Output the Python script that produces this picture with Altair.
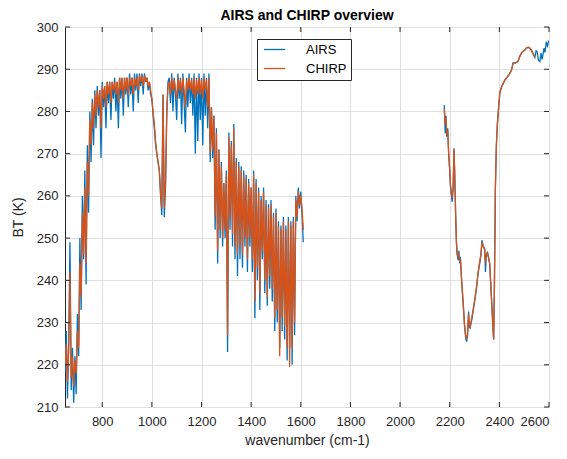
import altair as alt
import pandas as pd

# ---------------- data ----------------
# Longwave/midwave band: channel grid 650..1610 cm-1 every 5 cm-1
wn_lw = list(range(650, 1611, 5))

airs_lw = [
    218, 228, 212, 226, 249, 214, 224, 211, 222, 213,
    232, 222, 250, 233, 260, 245, 266, 239, 272, 256,
    280, 268, 283, 272, 285, 276, 286, 279, 285, 269,
    287, 281, 286, 276, 287, 282, 287, 278, 287, 283,
    288, 280, 287, 276, 288, 283, 288, 279, 288, 284,
    288, 281, 289, 284, 288, 280, 289, 285, 289, 282,
    289, 286, 289, 284, 289, 287, 288, 285, 287, 284,
    283, 279, 276, 272, 270, 268, 266, 260, 255.5, 284,
    255, 262, 280, 287, 288, 282, 289, 280, 288, 284,
    278, 289, 283, 288, 277, 289, 282, 275, 288, 281,
    289, 282, 288, 279, 289, 270, 288, 273, 289, 278,
    288, 272, 289, 279, 288, 276, 289, 268, 281, 269,
    279, 252, 276, 244, 271, 250, 268, 248, 263, 250,
    266, 223, 275, 252, 273, 248, 277, 245, 269, 241,
    268, 245, 267, 243, 266, 248, 265, 242, 264, 248,
    262, 242, 266, 231, 264, 240, 262, 233, 260, 245,
    262, 237, 259, 234, 258, 238, 259, 235, 256, 228,
    257, 230, 254, 224, 253, 228, 255, 226, 253, 221,
    255, 224, 254, 220, 255, 227, 260, 254, 262, 257,
    261, 256, 249,
]

chirp_lw = [
    220, 225, 216, 223, 242, 217, 222, 215, 221, 218,
    228, 224, 244, 236, 256, 246, 262, 244, 268, 260,
    278, 272, 282, 276, 284, 279, 285, 281, 285, 276,
    286, 283, 286, 281, 287, 284, 287, 282, 287, 285,
    287, 284, 287, 282, 288, 285, 288, 283, 288, 285,
    288, 284, 288, 286, 288, 284, 288, 286, 288, 285,
    288.5, 287, 288.5, 286, 288.5, 287, 288, 286, 287, 285,
    283, 280, 277, 273, 270, 268, 266, 261, 257, 284,
    257, 263, 279, 286, 287, 284, 288, 285, 287.5, 285,
    283, 288, 285, 287.5, 284, 288, 285, 281, 287.5, 285,
    288, 285, 287.5, 284, 288, 283, 287.5, 284, 288, 284,
    287.5, 283, 288, 285, 287.5, 281, 288, 270, 281, 271,
    279, 255, 275, 247, 271, 252, 267, 250, 263, 252,
    265, 227, 274, 255, 272, 251, 276, 248, 268, 246,
    267, 248, 266, 246, 265, 250, 264, 245, 263, 250,
    262, 245, 265, 235, 263, 243, 261, 237, 259, 247,
    261, 240, 258, 236, 257, 241, 258, 238, 255, 231,
    256, 233, 253, 222, 252, 231, 254, 229, 252, 224,
    254, 219.5, 253, 224, 254, 230, 259, 255, 261, 258,
    260, 257, 252,
]

# Shortwave band
wn_sw_airs = [
    2178, 2182, 2185, 2188, 2192, 2196, 2200, 2203, 2207, 2210,
    2214, 2217, 2220, 2224, 2227, 2230, 2234, 2237, 2240, 2243,
    2248, 2254, 2260, 2265, 2268, 2272, 2276, 2279, 2282, 2290,
    2301, 2308, 2314, 2318, 2321, 2326, 2330, 2335, 2341, 2344,
    2347, 2352, 2356, 2361, 2368, 2374, 2377, 2380, 2384, 2388,
    2392, 2397, 2402, 2410, 2422, 2430, 2440, 2449, 2455, 2465,
    2475, 2482, 2489, 2495, 2502, 2509, 2516, 2522, 2529, 2535,
    2543, 2548, 2552, 2557, 2563, 2568, 2572, 2576, 2580, 2584,
    2589, 2594, 2600,
]
airs_sw = [
    281.5, 274.8, 279, 274, 276, 269.3, 266, 262.2, 260, 258.6,
    262, 271.3, 266, 255, 248.8, 246, 244.8, 247, 244, 245.6,
    240, 234.6, 229, 226, 225.5, 227, 232.6, 229, 228.7, 231,
    235.3, 238, 241.7, 243, 244, 246, 249.5, 248, 247.6, 242,
    245.5, 246.8, 245.5, 244, 236, 229, 226, 238, 262, 272,
    277, 281, 284.5, 286, 287.4, 288, 288.8, 289.8, 291.5, 291.5,
    291.8, 293, 293.8, 294.2, 294.5, 295, 295.2, 295, 294.5, 293.8,
    292.8, 294.4, 294.2, 292.2, 291.8, 293.8, 292.3, 293.5, 295, 294,
    296.5, 295.5, 296.8,
]

wn_sw_chirp = [
    2178, 2182, 2185, 2188, 2192, 2196, 2200, 2203, 2207, 2210,
    2214, 2217, 2220, 2224, 2227, 2230, 2234, 2237, 2240, 2243,
    2248, 2254, 2260, 2265, 2268, 2272, 2276, 2279, 2282, 2290,
    2301, 2308, 2314, 2318, 2321, 2326, 2330, 2335, 2341, 2344,
    2347, 2352, 2356, 2361, 2368, 2374, 2377, 2380, 2384, 2388,
    2392, 2397, 2402, 2410, 2422, 2430, 2440, 2449, 2455, 2465,
    2475, 2482, 2489, 2495, 2502, 2509, 2516, 2522, 2529, 2535,
    2543,
]
chirp_sw = [
    280.5, 277, 278.5, 274.5, 275.5, 270, 266.5, 262.8, 260.5, 259.5,
    262.5, 271, 265.5, 255.5, 249.5, 246.5, 245.5, 246.5, 244.5, 245,
    240, 234.8, 229.5, 226.5, 226.2, 227.5, 232, 229.5, 229, 231.5,
    235.5, 238.5, 241.5, 243.5, 244.5, 246.5, 249, 248, 247.2, 244,
    246, 246.5, 245.5, 244, 236, 229, 226, 238, 262, 272,
    277, 281, 284.5, 286, 287.4, 288, 288.8, 289.8, 291.3, 291.5,
    291.8, 293, 293.8, 294.2, 294.5, 295, 295.2, 295, 294.5, 293.8,
    292.8,
]

x_ticks = [800, 1000, 1200, 1400, 1600, 1800, 2000, 2200, 2400, 2600]
y_ticks = [210, 220, 230, 240, 250, 260, 270, 280, 290, 300]

series_names = ["AIRS", "CHIRP"]
series_colors = ["#0072BD", "#D95319"]

# ---------------- table ----------------
rows = []
for w, v in zip(wn_lw, airs_lw):
    rows.append({"wn": w, "bt": v, "series": "AIRS", "seg": "lw"})
for w, v in zip(wn_sw_airs, airs_sw):
    rows.append({"wn": w, "bt": v, "series": "AIRS", "seg": "sw"})
for w, v in zip(wn_lw, chirp_lw):
    rows.append({"wn": w, "bt": v, "series": "CHIRP", "seg": "lw"})
for w, v in zip(wn_sw_chirp, chirp_sw):
    rows.append({"wn": w, "bt": v, "series": "CHIRP", "seg": "sw"})
df = pd.DataFrame(rows)
df["order"] = range(len(df))

FONT = "Liberation Sans"
TXT = "#262626"

xscale = alt.Scale(domain=[650, 2600], nice=False, zero=False)
yscale = alt.Scale(domain=[210, 300], nice=False, zero=False)
cscale = alt.Scale(domain=series_names, range=series_colors)

x_enc = alt.X("wn:Q", scale=xscale,
              axis=alt.Axis(values=x_ticks, title="wavenumber (cm-1)", format="d",
                            tickSize=0, labelPadding=8, titlePadding=5,
                            gridColor="#dfdfdf", domain=False))
y_enc = alt.Y("bt:Q", scale=yscale,
              axis=alt.Axis(values=y_ticks, title="BT (K)", format="d",
                            tickSize=0, labelPadding=7, titlePadding=11,
                            gridColor="#dfdfdf", domain=False))

# legend: a long horizontal stroke drawn by a custom path (unit box -1..1)
legend = alt.Legend(title=None, orient="none", legendX=192, legendY=12,
                    strokeColor=TXT, fillColor="white", padding=4,
                    symbolType="M-1,0L5,0", symbolSize=50, symbolStrokeWidth=1.3,
                    labelFontSize=13, labelFont=FONT, labelColor="black",
                    labelOffset=32, rowPadding=5)

base = alt.Chart(df)

SW = 1.3
airs_line = base.transform_filter(alt.datum.series == "AIRS").mark_line(
    strokeWidth=SW, clip=True
).encode(
    x=x_enc, y=y_enc,
    color=alt.Color("series:N", scale=cscale, legend=legend),
    detail="seg:N", order="order:Q",
)
chirp_line = base.transform_filter(alt.datum.series == "CHIRP").mark_line(
    strokeWidth=SW, clip=True
).encode(
    x=alt.X("wn:Q", scale=xscale), y=alt.Y("bt:Q", scale=yscale),
    color=alt.Color("series:N", scale=cscale, legend=legend),
    detail="seg:N", order="order:Q",
)

# inward tick marks (MATLAB style)
xt = pd.DataFrame({"t": x_ticks})
yt = pd.DataFrame({"t": y_ticks})
tk = dict(color=TXT, strokeWidth=1)
bottom_ticks = alt.Chart(xt).mark_rule(**tk).encode(
    x=alt.X("t:Q", scale=xscale), y=alt.value(380), y2=alt.value(375))
top_ticks = alt.Chart(xt).mark_rule(**tk).encode(
    x=alt.X("t:Q", scale=xscale), y=alt.value(0), y2=alt.value(5))
left_ticks = alt.Chart(yt).mark_rule(**tk).encode(
    y=alt.Y("t:Q", scale=yscale), x=alt.value(0), x2=alt.value(5))
right_ticks = alt.Chart(yt).mark_rule(**tk).encode(
    y=alt.Y("t:Q", scale=yscale), x=alt.value(484), x2=alt.value(479))

chart = alt.layer(
    airs_line, chirp_line, bottom_ticks, top_ticks, left_ticks, right_ticks
).resolve_scale(color="shared").properties(
    width=484, height=380,
    title=alt.TitleParams("AIRS and CHIRP overview", font=FONT, fontSize=14,
                          fontWeight="bold", color="black", anchor="middle",
                          frame="group", offset=0, dy=2),
    autosize=alt.AutoSizeParams(type="none"),
    padding={"left": 57, "top": 19, "right": 10, "bottom": 45},
).configure_view(
    stroke=TXT, strokeWidth=1
).configure_axis(
    labelFont=FONT, titleFont=FONT, labelFontSize=13, titleFontSize=14,
    labelColor=TXT, titleColor=TXT, titleFontWeight="normal",
)

chart.save("out.html", embed_options={"renderer": "svg", "actions": False})
